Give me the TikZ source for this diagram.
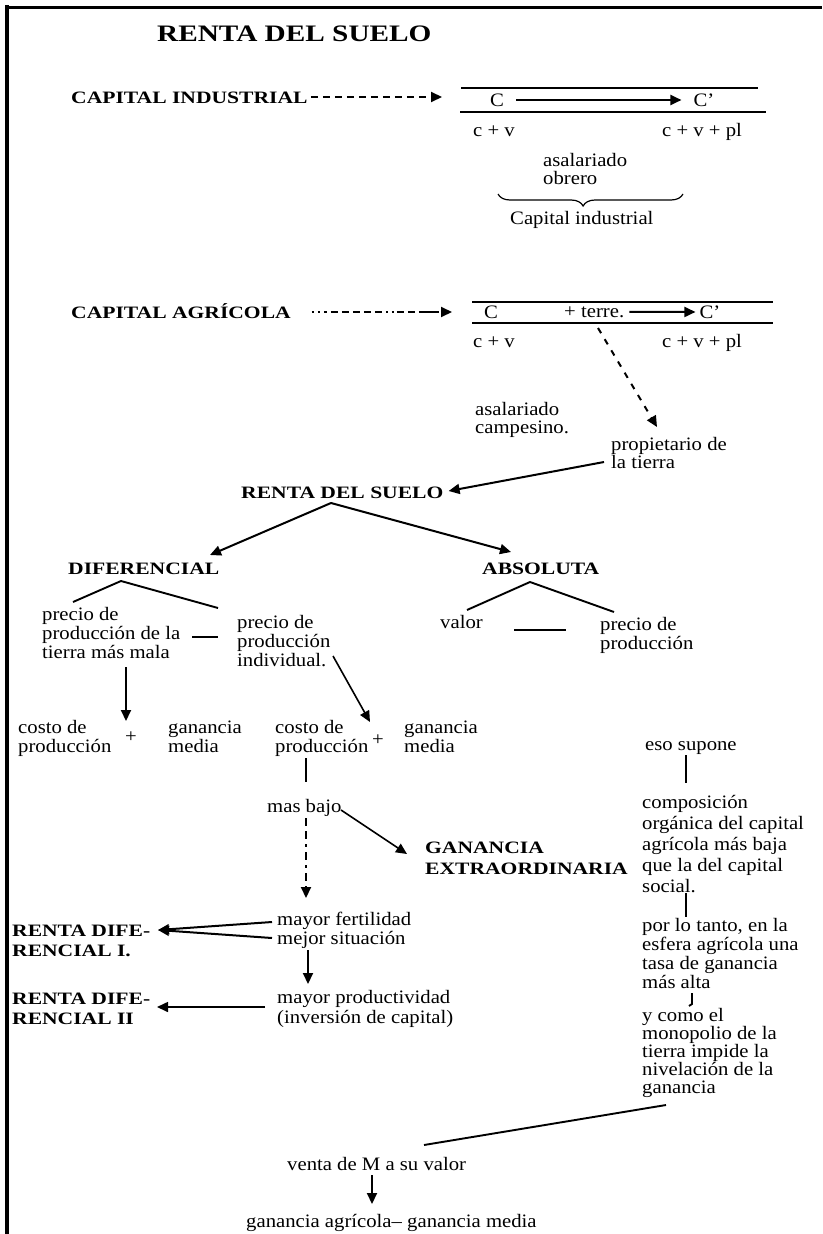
\documentclass[tikz,border=0pt]{standalone}
\usepackage{fontspec}
\setmainfont{Liberation Serif}[FakeStretch=1.09]
\newfontfamily\capfont{Liberation Serif}[FakeStretch=1.24]
\usetikzlibrary{arrows.meta,decorations.pathreplacing}
\begin{document}
\begin{tikzpicture}[x=1pt,y=-1pt,
  txt/.style={anchor=base west,inner sep=0pt,align=left,font=\fontsize{19}{19}\selectfont},
  txtc/.style={anchor=center,inner sep=0pt,font=\fontsize{19}{19}\selectfont},
  capt/.style={anchor=base west,inner sep=0pt,align=left,font=\capfont\bfseries\fontsize{17.4}{21}\selectfont},
  ttl/.style={anchor=base west,inner sep=0pt,font=\capfont\bfseries\fontsize{23.6}{26}\selectfont},
  ln/.style={line width=1.9pt},
  arr/.style={line width=2pt,-{Triangle[length=11pt,width=10pt]}},
]
\path[use as bounding box] (0,0) rectangle (822,1234);
% frame
\draw[line width=3pt] (5,7) -- (822,7);
\draw[line width=3.5pt] (7,5) -- (7,1234);

% title
\node[ttl] (title) at (157,41) {RENTA DEL SUELO};

% capital industrial
\node[capt] (ci) at (71,103) {CAPITAL INDUSTRIAL};
\coordinate (ciend) at (442,97);
\draw[arr,dash pattern=on 7pt off 5pt] ([xshift=3pt,yshift=6pt]ci.base east) -- (ciend);
\draw[ln] (461,88) -- (758,88);
\draw[ln] (460,112) -- (766,112);
\node[txtc] (c1) at (497,100) {C};
\node[txtc] (c1p) at (704,100) {C'};
\draw[arr] ([xshift=12pt]c1.east) -- ([xshift=-12pt]c1p.west);
\node[txt] (cv1) at (473,136) {c + v};
\node[txt] (cvpl1) at (662,136) {c + v + pl};
\node[txt,font=\fontsize{19}{18}\selectfont] (asal1) at (543,184) {asalariado\\obrero};
\draw[line width=1.2pt,decorate,decoration={brace,mirror,amplitude=12pt,aspect=0.46}] (498,194) -- (683,194);
\node[txt] (capind) at (510,224) {Capital industrial};

% capital agricola
\node[capt] (ca) at (71,318) {CAPITAL AGRÍCOLA};
\coordinate (caend) at (452,312);
\draw[arr,dash pattern=on 2pt off 4pt on 2pt off 4pt on 3pt off 4pt on 7pt off 4pt on 7pt off 4pt on 7pt off 4pt on 7pt off 4pt on 7pt off 4pt on 2pt off 4pt on 2pt off 3pt on 7pt off 4pt on 7pt off 4pt on 20pt]
  ([xshift=21pt,yshift=6pt]ca.base east) -- (caend);
\draw[ln] (472,302) -- (773,302);
\draw[ln] (472,323) -- (773,323);
\node[txtc] (c2) at (491,312) {C};
\node[txt] (terre) at (564,317) {+ terre.};
\node[txtc] (c2p) at (710,312) {C'};
\draw[arr] ([xshift=5pt]terre.east) -- ([xshift=-4pt]c2p.west);
\node[txt] (cv2) at (473,347) {c + v};
\node[txt] (cvpl2) at (662,347) {c + v + pl};
\coordinate (tstart) at (598,328);
\coordinate (tend) at (657,427);
\draw[arr,dash pattern=on 6pt off 7pt] (tstart) -- (tend);
\node[txt,font=\fontsize{19}{18}\selectfont] (asal2) at (475,433) {asalariado\\campesino.};
\node[txt,font=\fontsize{19}{18}\selectfont] (prop) at (611,468) {propietario de\\la tierra};

% renta del suelo
\node[capt] (rds) at (241,498) {RENTA DEL SUELO};
\coordinate (pa) at (604,462);
\draw[arr] (pa) -- ([xshift=5pt,yshift=7pt]rds.base east);
\coordinate (rtop) at (331,503);
\coordinate (difin) at (210,555);
\coordinate (absin) at (511,552);
\draw[arr] (rtop) -- (difin);
\draw[arr] (rtop) -- (absin);

\node[capt] (dif) at (68,574) {DIFERENCIAL};
\node[capt] (abs) at (482,574) {ABSOLUTA};

% diferencial branch
\coordinate (difb) at (121,581);
\coordinate (difl) at (73,602);
\coordinate (difr) at (218,608);
\draw[ln] (difl) -- (difb) -- (difr);
\node[txt] (pre1) at (42,658) {precio de\\producción de la\\tierra más mala};
\node[txt] (pre2) at (237,666) {precio de\\producción\\individual.};
\coordinate (d1) at (192,637);
\coordinate (d2) at (218,637);
\draw[ln] (d1) -- (d2);

% absoluta branch
\coordinate (absb) at (530,582);
\coordinate (absl) at (467,610);
\coordinate (absr) at (614,612);
\draw[ln] (absl) -- (absb) -- (absr);
\node[txt] (valor) at (440,628) {valor};
\node[txt] (pre3) at (600,649) {precio de\\producción};
\coordinate (v1) at (514,630);
\coordinate (v2) at (566,630);
\draw[ln] (v1) -- (v2);

% costs
\coordinate (a1s) at (126,667);
\coordinate (a1e) at (126,721);
\draw[arr] (a1s) -- (a1e);
\coordinate (a2s) at (333,656);
\coordinate (a2e) at (370,722);
\draw[arr,line width=1.6pt] (a2s) -- (a2e);
\node[txt] (costo1) at (18,752) {costo de\\producción};
\node[txtc] (plus1) at (131,737) {+};
\node[txt] (gan1) at (168,752) {ganancia\\media};
\node[txt] (costo2) at (275,752) {costo de\\producción};
\node[txtc] (plus2) at (378,740) {+};
\node[txt] (gan2) at (404,752) {ganancia\\media};

\node[txt] (eso) at (645,750) {eso supone};
\coordinate (l1s) at (306,758);
\coordinate (l1e) at (306,782);
\draw[ln] (l1s) -- (l1e);
\coordinate (r1s) at (686,755);
\coordinate (r1e) at (686,783);
\draw[ln] (r1s) -- (r1e);

\node[txt] (masbajo) at (267,812) {mas bajo};
\coordinate (mb1) at (341,810);
\coordinate (mb2) at (407,854);
\draw[arr,line width=1.6pt] (mb1) -- (mb2);
\coordinate (mb3) at (306,818);
\coordinate (mb4) at (306,898);
\draw[arr,dash pattern=on 8pt off 5pt on 8pt off 5pt on 3pt off 5pt on 8pt off 5pt on 3pt off 5pt on 8pt off 5pt on 8pt] (mb3) -- (mb4);
\node[capt] (gext) at (425,874) {GANANCIA\\EXTRAORDINARIA};

\node[txt,font=\fontsize{19}{21}\selectfont] (comp) at (642,892) {composición\\orgánica del capital\\agrícola más baja\\que la del capital\\social.};
\coordinate (r2s) at (686,893);
\coordinate (r2e) at (686,917);
\draw[ln] (r2s) -- (r2e);
\node[txt] (porlo) at (642,988) {por lo tanto, en la\\esfera agrícola una\\tasa de ganancia\\más alta};

% renta diferencial I
\node[capt,font=\capfont\bfseries\fontsize{17.4}{20}\selectfont] (rd1) at (12,956) {RENTA DIFE-\\RENCIAL I.};
\node[txt,font=\fontsize{19}{16}\selectfont] (mf) at (277,944) {mayor fertilidad\\mejor situación};
\coordinate (mf1) at (272,922);
\coordinate (mf2) at (272,938);
\coordinate (rd1tip) at (158,930);
\draw[arr] (mf1) -- (rd1tip);
\draw[arr] (mf2) -- (rd1tip);
\coordinate (a3s) at (308,950);
\coordinate (a3e) at (308,984);
\draw[arr] (a3s) -- (a3e);

% renta diferencial II
\node[capt,font=\capfont\bfseries\fontsize{17.4}{20}\selectfont] (rd2) at (12,1024) {RENTA DIFE-\\RENCIAL II};
\node[txt,font=\fontsize{19}{20}\selectfont] (mp) at (277,1023) {mayor productividad\\(inversión de capital)};
\coordinate (mp1) at (265,1007);
\coordinate (rd2tip) at (157,1007);
\draw[arr,line width=1.6pt] (mp1) -- (rd2tip);

\coordinate (hk1) at (692,993);
\coordinate (hk2) at (692,1004);
\coordinate (hk3) at (689,1006);
\draw[ln] (hk1) -- (hk2) -- (hk3);
\node[txt,font=\fontsize{19}{18}\selectfont] (ycomo) at (642,1093) {y como el\\monopolio de la\\tierra impide la\\nivelación de la\\ganancia};

\coordinate (yl1) at (666,1105);
\coordinate (yl2) at (424,1145);
\draw[ln] (yl1) -- (yl2);
\node[txt] (venta) at (287,1170) {venta de M a su valor};
\coordinate (a4s) at (372,1175);
\coordinate (a4e) at (372,1204);
\draw[arr] (a4s) -- (a4e);
\node[txt] (ganagr) at (246,1227) {ganancia agrícola– ganancia media};
\end{tikzpicture}
\end{document}
